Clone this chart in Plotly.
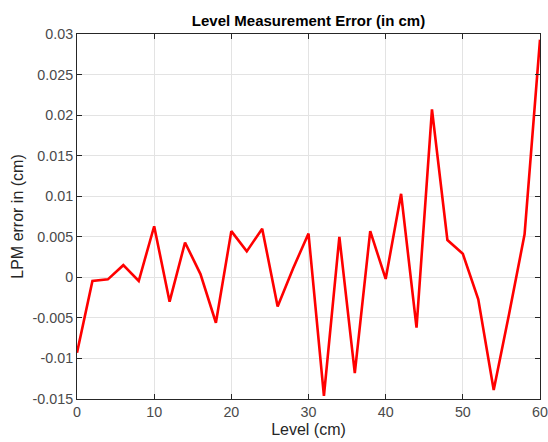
import plotly.graph_objects as go

level = list(range(0, 62, 2))
error = [-0.0093, -0.00045, -0.00025, 0.0015, -0.00045, 0.0063, -0.003, 0.0043, 0.0004,
         -0.0056, 0.0057, 0.0032, 0.006, -0.0036, 0.0011, 0.0054, -0.0146, 0.005,
         -0.0118, 0.0057, -0.0002, 0.0103, -0.0062, 0.0207, 0.0046, 0.0029, -0.0027,
         -0.0139, -0.0045, 0.0053, 0.0293]
xticks = [0, 10, 20, 30, 40, 50, 60]
yticks = [-0.015, -0.01, -0.005, 0, 0.005, 0.01, 0.015, 0.02, 0.025, 0.03]
ylabels = ["-0.015", "-0.01", "-0.005", "0", "0.005", "0.01", "0.015", "0.02", "0.025", "0.03"]

fig = go.Figure(go.Scatter(x=level, y=error, mode="lines",
                           line=dict(color="#ff0000", width=2.6)))

axis_common = dict(showline=True, linecolor="#262626", linewidth=1, mirror="ticks",
                   ticks="inside", ticklen=5, tickcolor="#262626", automargin=False,
                   showgrid=True, gridcolor="#e3e3e3", gridwidth=1, zeroline=False,
                   tickfont=dict(family="Liberation Sans, Arial", size=14.3, color="#4a4a4a"))

fig.update_layout(
    width=548, height=442,
    margin=dict(l=77, r=8, t=34, b=43),
    paper_bgcolor="white", plot_bgcolor="white",
    showlegend=False,
    title=dict(text="<b>Level Measurement Error (in cm)</b>", x=0.5, xref="paper",
               xanchor="center", y=0.953, yanchor="middle",
               font=dict(family="Liberation Sans, Arial", size=15, color="#000000")),
    xaxis=dict(range=[0, 60], tickvals=xticks, **axis_common,
               title=dict(text="Level (cm)", standoff=4,
                          font=dict(family="Liberation Sans, Arial", size=16, color="#262626"))),
    yaxis=dict(range=[-0.015, 0.03], tickvals=yticks, ticktext=ylabels, **axis_common,
               title=dict(text="LPM error in (cm)", standoff=4,
                          font=dict(family="Liberation Sans, Arial", size=16, color="#262626"))),
)

fig.write_html("out.html")
